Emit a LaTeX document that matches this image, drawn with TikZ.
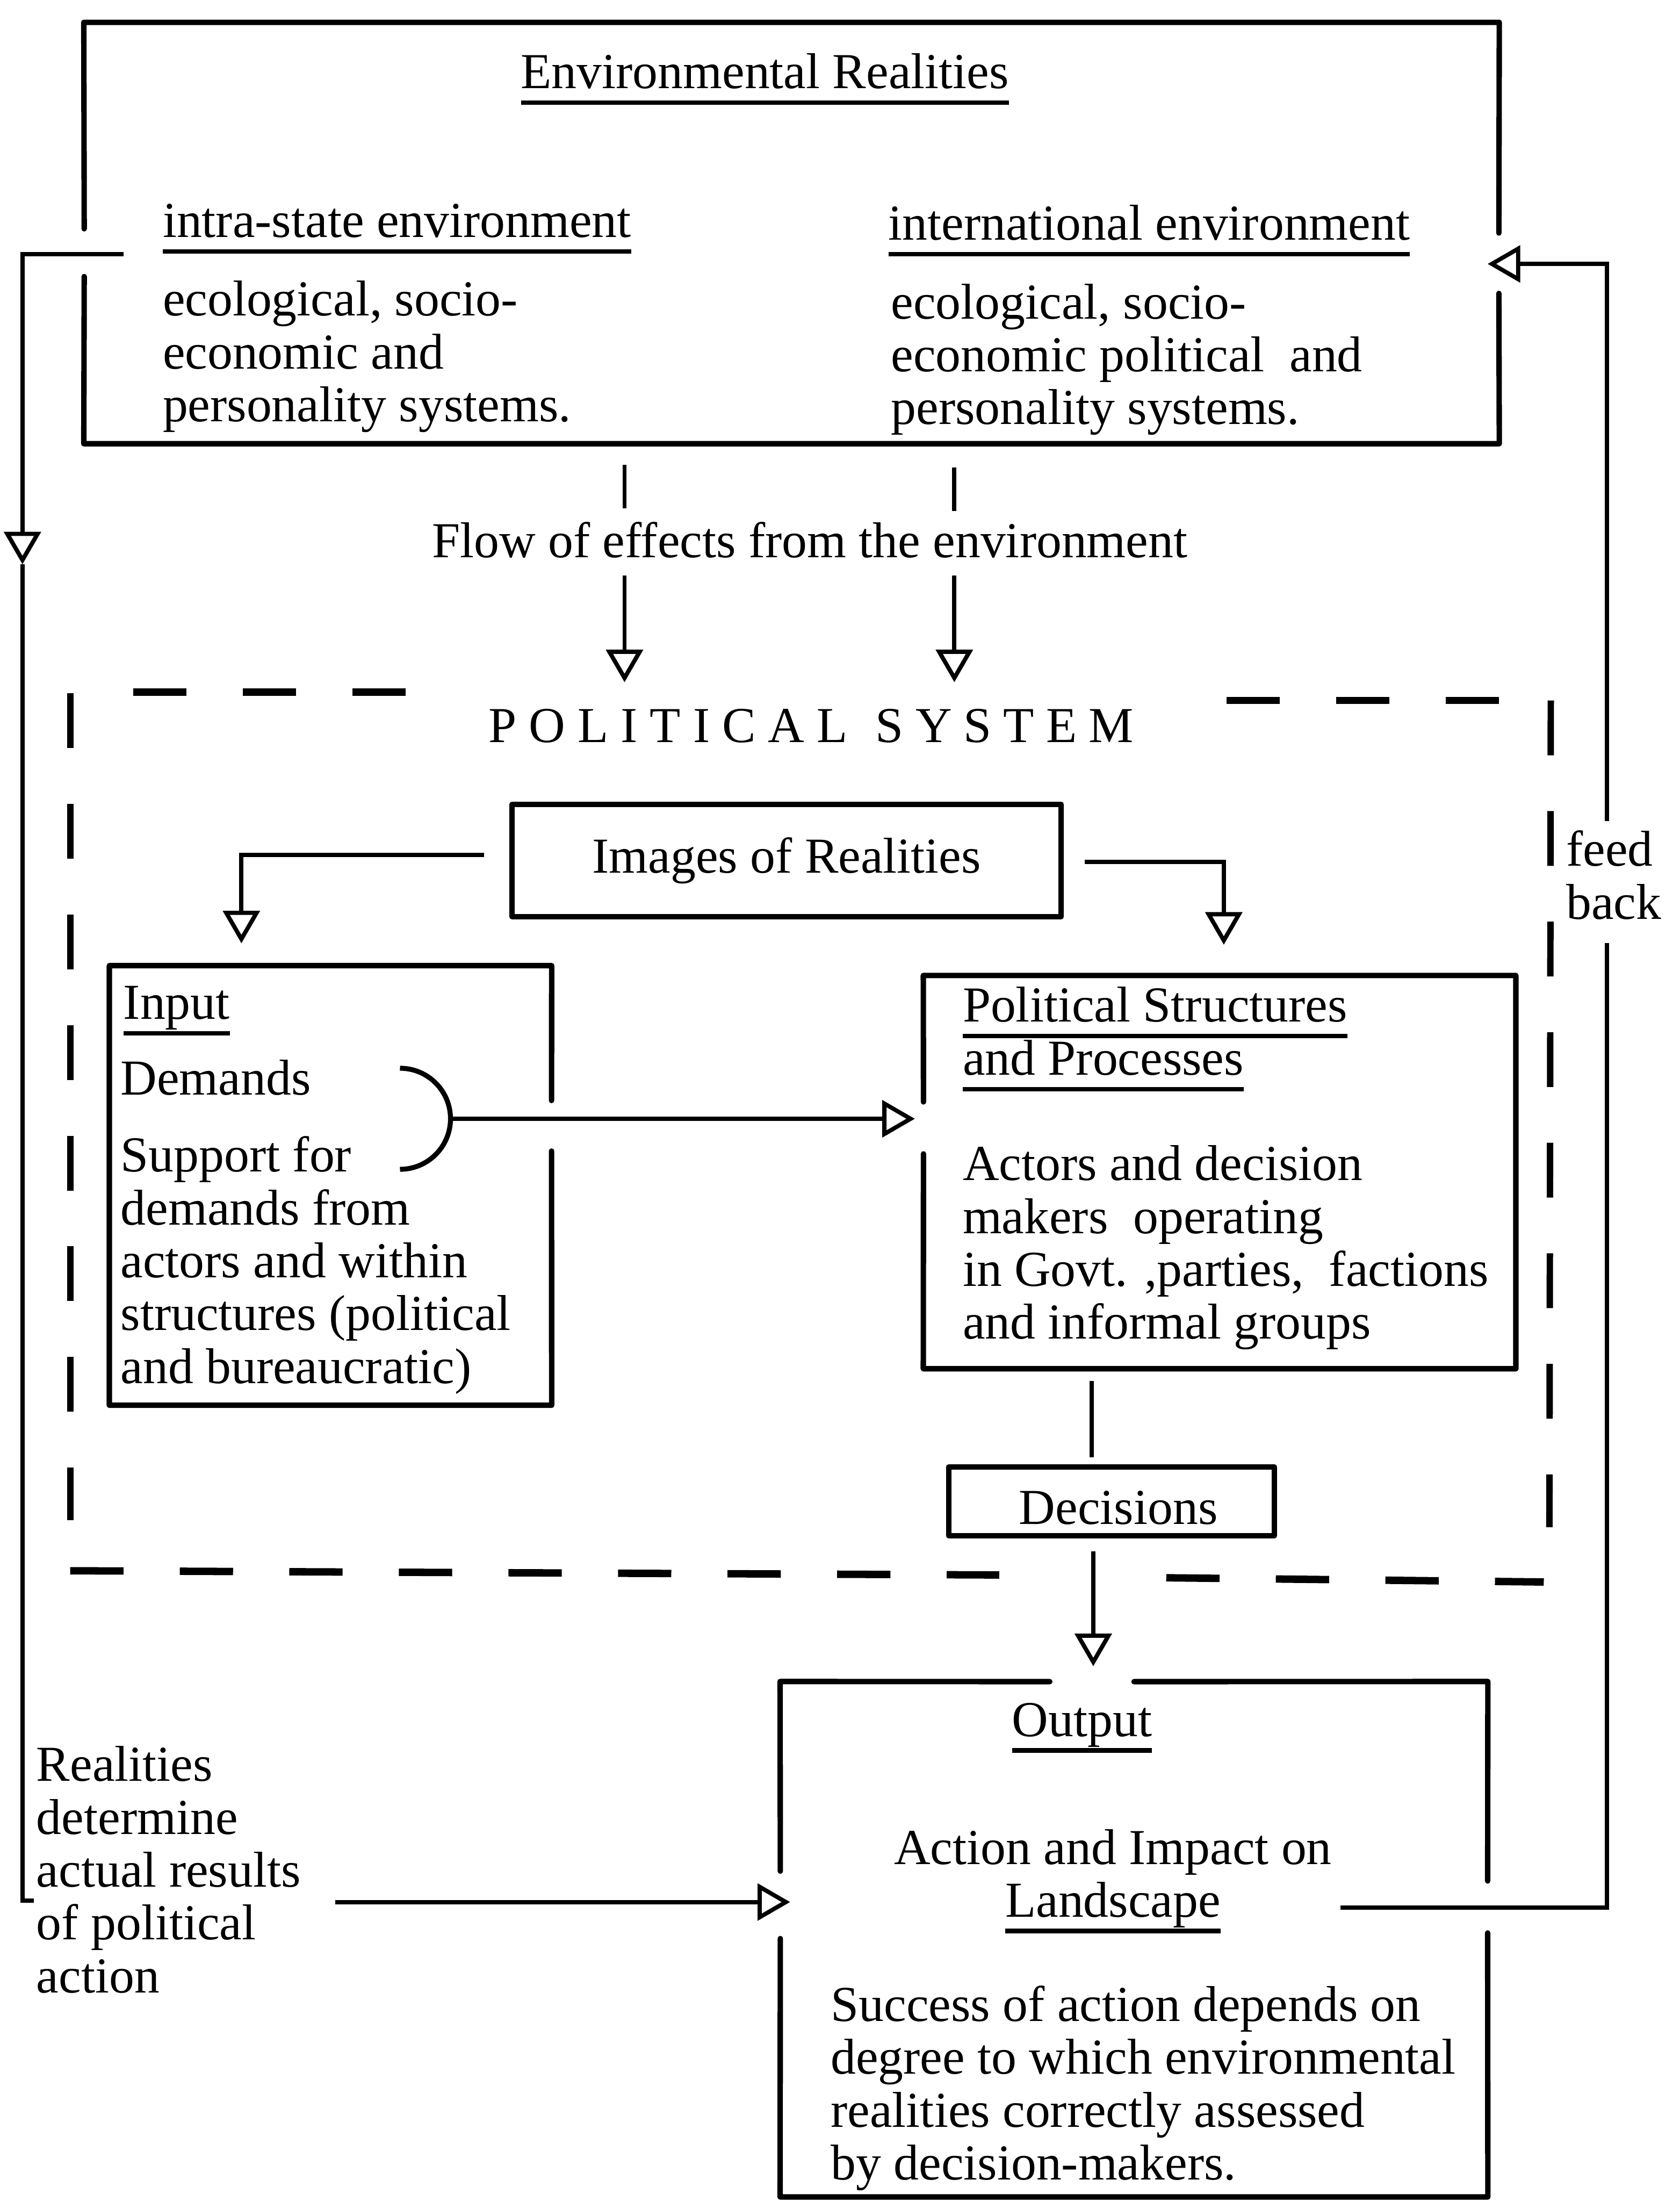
\documentclass[tikz,border=0pt]{standalone}
\usepackage{fontspec}
\setmainfont{Liberation Serif}
\usetikzlibrary{arrows.meta,calc}

% underlined heading with a heavy rule set below the baseline
\newsavebox\ulbox
\newcommand\ulin[1]{\sbox\ulbox{#1}\rlap{\rule[-3.3pt]{\wd\ulbox}{0.9pt}}\usebox\ulbox}
% block of lines whose baseline is the first line
\newcommand\txtblock[2][l]{\begin{tabular}[t]{@{}#1@{}}#2\end{tabular}}

\begin{document}
\begin{tikzpicture}[x=0.01cm,y=-0.01cm,
  font=\fontsize{10.2}{10.7}\selectfont,
  txt/.style={inner sep=0pt, outer sep=0pt},
  frame/.style={inner sep=0pt, outer sep=0pt, draw=none},
  boxline/.style={line width=1.1pt, line cap=round, line join=round},
  conn/.style={line width=0.85pt},
  arr/.style={conn, -{Triangle[open, length=6.6pt, width=7.4pt]}},
  dashh/.style={line width=1.5pt, dash pattern=on 10.8pt off 11.4pt},
  dashv/.style={line width=1.3pt, dash pattern=on 11.1pt off 11.3pt}]
\useasboundingbox (0,0) rectangle (1197,1568);

% ---------------- environmental realities ----------------
\node[frame, minimum width=10.08cm, minimum height=3.00cm] (env) at (564,166) {};
\draw[boxline] (60,163) -- (env.north west) -- (env.north east) -- (1068,166);
\draw[boxline] (1068,209) -- (env.south east) -- (env.south west) -- (60,197);

\node[txt, anchor=base] (envtitle) at (545,63) {\ulin{Environmental Realities}};
\node[txt, anchor=base west] (intrahead) at (116,169) {\ulin{intra-state environment}};
\node[txt, anchor=base west] (intrabody) at (116,225)
  {\txtblock{ecological, socio-\\economic and\\personality systems.}};
\node[txt, anchor=base west] (interhead) at (633,171) {\ulin{international environment}};
\node[txt, anchor=base west] (interbody) at (635,227)
  {\txtblock{ecological, socio-\\economic political\ \ and\\personality systems.}};

% ---------------- flow of effects ----------------
\node[txt, anchor=base] (flow) at (577,397) {Flow of effects from the environment};
\draw[conn] (445,331) -- (445,362);
\draw[conn] (680,333) -- (680,364);
\draw[arr] (445,410) -- (445,486);
\draw[arr] (680,410) -- (680,486);

% ---------------- political system frame ----------------
\node[txt, anchor=base] (polsys) at (578,529)
  {P\kern2.5pt O\kern2.5pt L\kern2.5pt I\kern2.5pt T\kern2.5pt I\kern2.5pt C\kern2.5pt A\kern2.5pt L\kern5.7pt
   S\kern2.4pt Y\kern2.4pt S\kern2.4pt T\kern2.4pt E\kern2.4pt M};
\draw[dashh] (95,493) -- (290,493);
\draw[dashh] (874,499) -- (1069,499);
\draw[dashh] (50,1119) -- (712,1122);
\draw[dashh] (831,1124) -- (1100,1127);
\draw[dashv] (50,494) -- (50,1083);
\draw[dashv] (1105,499) -- (1104,1088);

% ---------------- images of realities ----------------
\node[draw, boxline, minimum width=3.91cm, minimum height=0.80cm, inner sep=0pt] (img)
  at (560.5,613) {Images of Realities};
\draw[arr] ($(img.west)+(-18,-4)$) -| (172,672);
\draw[arr] ($(img.east)+(15,1)$) -| (872,673);

% ---------------- input ----------------
\node[frame, minimum width=3.15cm, minimum height=3.13cm] (input) at (235.5,844.5) {};
\draw[boxline] (393,784) -- (input.north east) -- (input.north west)
  -- (input.south west) -- (input.south east) -- (393,820);
\node[txt, anchor=base west] (inhead) at (88,726) {\ulin{Input}};
\node[txt, anchor=base west] (inbody) at (86,780)
  {\txtblock{Demands\\[4.9pt]Support for\\demands from\\actors and within\\structures (political\\and bureaucratic)}};
\draw[conn, line width=1pt] (285,761) arc[start angle=-90, end angle=90, radius=36];
\coordinate (brk) at (321,797);

% ---------------- political structures ----------------
\node[frame, minimum width=4.22cm, minimum height=2.80cm] (ps) at (869,835) {};
\draw[boxline] (658,785) -- (ps.north west) -- (ps.north east)
  -- (ps.south east) -- (ps.south west) -- (658,822);
\node[txt, anchor=base west] (pshead) at (686,728)
  {\txtblock{\ulin{Political Structures}\\\ulin{and Processes}}};
\node[txt, anchor=base west] (psbody) at (686,841)
  {\txtblock{Actors and decision\\makers\ \ operating\\in Govt. ,parties,\ \ factions\\and informal groups}};
\draw[arr] (brk) -- ($(brk -| ps.west)+(-6,0)$);

% ---------------- decisions ----------------
\node[draw, boxline, minimum width=2.32cm, minimum height=0.49cm, inner sep=0pt] (dec)
  at (792,1069.5) {\raisebox{-1.3pt}[\height][\depth]{\hspace{2.8pt}Decisions}};
\draw[conn] (778,984) -- (778,1038);
\draw[arr] (779,1105) -- (779,1187);

% ---------------- output ----------------
\node[frame, minimum width=5.04cm, minimum height=3.67cm] (out) at (808,1381.5) {};
\draw[boxline] (748,1198) -- (out.north west) -- (556,1333);
\draw[boxline] (556,1381) -- (out.south west) -- (out.south east) -- (1060,1377);
\draw[boxline] (1060,1340) -- (out.north east) -- (808,1198);
\node[txt, anchor=base] (outhead) at (771,1237) {\ulin{Output}};
\node[txt, anchor=base] (impact) at (793,1328)
  {\txtblock[c]{Action and Impact on\\\ulin{Landscape}}};
\node[txt, anchor=base west] (success) at (592,1440)
  {\txtblock{Success of action depends on\\degree to which environmental\\realities correctly assessed\\by decision-makers.}};

% ---------------- realities determine results ----------------
\node[txt, anchor=base west] (realities) at (26,1269)
  {\txtblock{Realities\\determine\\actual results\\of political\\action}};
\draw[arr] (239,1355) -- (563,1355);

% ---------------- feedback loops ----------------
\draw[arr] (88,181) -| (16,402);
\draw[conn] (16,402) |- (24,1354);
\draw[conn] (955,1359) -| (1145,672);
\draw[arr] (1145,585) |- (1060,188);
\node[txt, anchor=base west] (fb) at (1116,617) {\txtblock{feed\\back}};
\end{tikzpicture}
\end{document}
